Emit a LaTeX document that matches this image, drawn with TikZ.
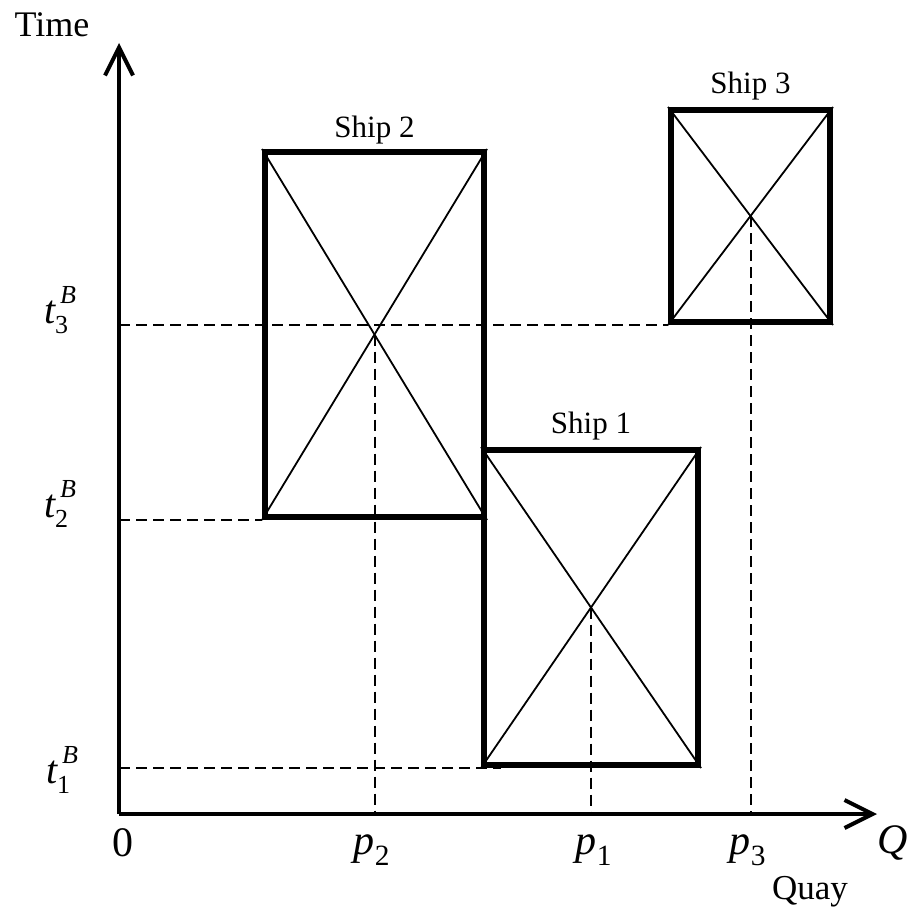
\documentclass[tikz,border=0pt]{standalone}
\usepackage{amsmath}
\usepackage{fontspec}
\setmainfont{Liberation Serif}
\usetikzlibrary{positioning, arrows.meta, calc}

\newcommand{\scr}{\fontsize{26}{28}\selectfont}
\newcommand{\tB}[1]{\textit{t}\kern4pt\rlap{\raisebox{20pt}{\scr\textit{B}}}\kern-5pt\raisebox{-10pt}{\scr #1}}
\newcommand{\pQ}[1]{$\textit{p}_{\text{#1}}$}

\tikzset{
  ship/.style={draw, line width=6pt, inner sep=0pt, rectangle},
  axis/.style={line width=4pt, -{Straight Barb[length=28pt, width=28pt, line width=4pt]}},
  guide/.style={line width=2pt, dash pattern=on 11pt off 6pt},
  cross/.style={line width=1.8pt},
  txt/.style={font=\fontsize{31}{36}\selectfont},
  mth/.style={font=\fontsize{42}{48}\selectfont},
  tlab/.style={font=\fontsize{40}{44}\selectfont, anchor=base west, inner sep=0pt}
}

\begin{document}
\begin{tikzpicture}[x=1pt, y=-1pt]
  \useasboundingbox (0,0) rectangle (914,917);

  % axes
  \coordinate (origin) at (119,814);
  \coordinate (ytip) at (119,43);
  \coordinate (xtip) at (877,814);
  \draw[axis] (origin) -- (ytip);
  \draw[axis] (origin) -- (xtip);

  % ships
  \node[ship, minimum width=219pt, minimum height=365pt] (ship2) at (374.5,334.5) {};
  \node[ship, minimum width=214pt, minimum height=315pt] (ship1) at (591,607.5) {};
  \node[ship, minimum width=159pt, minimum height=212pt] (ship3) at (750.5,216) {};

  \foreach \s in {ship1, ship2, ship3} {
    \draw[cross] (\s.north west) -- (\s.south east);
    \draw[cross] (\s.north east) -- (\s.south west);
    \draw[guide] (\s.center) -- (\s.center |- origin);
  }

  % berthing times
  \draw[guide] (ship3.south west -| origin) -- (ship3.south west);
  \draw[guide] (ship2.south west -| origin) -- (ship2.south west);
  \draw[guide] (ship1.south west -| origin) -- ($(ship1.south west)+(20,0)$);

  % labels
  \node[txt, above=1pt of ship2.north] (lab2) {Ship 2};
  \node[txt, above=3pt of ship1.north] (lab1) {Ship 1};
  \node[txt, above=3pt of ship3.north] (lab3) {Ship 3};

  \node[txt, font=\fontsize{36}{40}\selectfont] (time) at (52,25) {Time};
  \node[txt, font=\fontsize{35}{40}\selectfont] (quay) at (810,892) {Quay};
  \node[mth] (zero) at (123,843) {0};
  \node[mth] (qlab) at (893,843) {\textit{Q}};

  \node[tlab] (t3) at (44,323) {\tB{3}};
  \node[tlab] (t2) at (44,517) {\tB{2}};
  \node[tlab] (t1) at (46,783) {\tB{1}};

  \node[mth] (p2) at (372,850) {\pQ{2}};
  \node[mth] (p1) at (594,850) {\pQ{1}};
  \node[mth] (p3) at (748,850) {\pQ{3}};
\end{tikzpicture}
\end{document}
